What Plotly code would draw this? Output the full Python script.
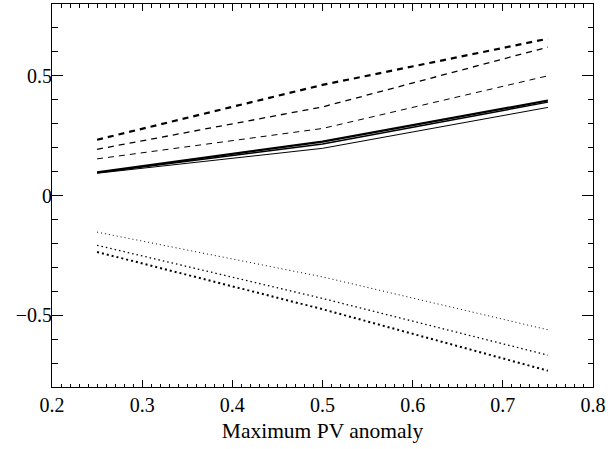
import plotly.graph_objects as go

x_vals = [0.25, 0.5, 0.75]

dash_thick = [0.233, 0.462, 0.655]
dash_med = [0.193, 0.370, 0.620]
dash_thin = [0.153, 0.280, 0.500]

solid_thick = [0.097, 0.225, 0.397]
solid_med = [0.095, 0.215, 0.390]
solid_thin = [0.093, 0.197, 0.368]

dot_thin = [-0.153, -0.340, -0.561]
dot_med = [-0.208, -0.430, -0.667]
dot_thick = [-0.236, -0.475, -0.732]

series = [
    (dash_thick, 2.2, "6px,5px"),
    (dash_med, 1.3, "6px,5px"),
    (dash_thin, 1.0, "6px,5px"),
    (solid_thick, 2.2, "solid"),
    (solid_med, 1.4, "solid"),
    (solid_thin, 1.0, "solid"),
    (dot_thin, 1.0, "1px,3px"),
    (dot_med, 1.3, "1.5px,3px"),
    (dot_thick, 2.0, "2px,3px"),
]

fig = go.Figure()
for ys, w, d in series:
    fig.add_trace(go.Scatter(x=x_vals, y=ys, mode="lines",
                             line=dict(color="black", width=w, dash=d),
                             showlegend=False, hoverinfo="skip"))

font = dict(family="Liberation Serif, Times New Roman, serif", size=20, color="black")
title_font = dict(family="Liberation Serif, Times New Roman, serif", size=21.5, color="black")

fig.update_layout(
    width=608, height=449,
    margin=dict(l=52, r=15, t=4, b=62),
    paper_bgcolor="white", plot_bgcolor="white",
    font=font,
    xaxis=dict(range=[0.2, 0.8], dtick=0.1, tick0=0.2, showgrid=False, zeroline=False,
               automargin=False,
               showline=True, linecolor="black", linewidth=1, mirror="ticks",
               ticks="inside", ticklen=7, tickcolor="black", tickwidth=1,
               minor=dict(dtick=0.01, ticks="inside", ticklen=3.5, tickcolor="black", tickwidth=1),
               title=dict(text="Maximum PV anomaly", font=title_font, standoff=7),
               tickfont=font),
    yaxis=dict(range=[-0.8, 0.8], dtick=0.5, tick0=0, showgrid=False, zeroline=False,
               automargin=False,
               showline=True, linecolor="black", linewidth=1, mirror="ticks",
               ticks="inside", ticklen=11, tickcolor="black", tickwidth=1,
               ticklabelstandoff=-5,
               minor=dict(dtick=0.1, ticks="inside", ticklen=5.5, tickcolor="black", tickwidth=1),
               tickfont=font),
)

fig.write_html("out.html", config={"displayModeBar": False},
               post_script="document.body.style.margin='0';document.body.style.padding='0';")
